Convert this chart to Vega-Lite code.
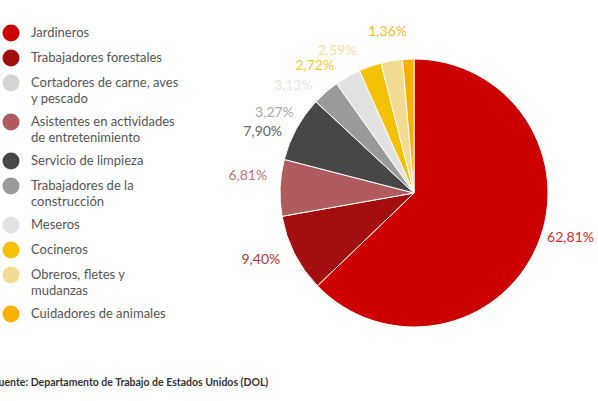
{
  "$schema": "https://vega.github.io/schema/vega-lite/v6.json",
  "width": 268,
  "height": 268,
  "autosize": "none",
  "padding": {"left": 280, "top": 59, "right": 50, "bottom": 74},
  "config": {
    "view": {"stroke": null},
    "font": "Lato",
    "style": {"guide-label": {"lineHeight": 16}},
    "locale": {"number": {"decimal": ",", "thousands": ".", "grouping": [3], "currency": ["", " €"]}}
  },
  "title": {
    "text": "Fuente: Departamento de Trabajo de Estados Unidos (DOL)",
    "orient": "bottom",
    "anchor": "start",
    "frame": "group",
    "dx": -287,
    "offset": 49,
    "fontSize": 10.5,
    "fontWeight": "bold",
    "color": "#333333",
    "font": "Lato"
  },
  "data": {
    "values": [
      {"categoria": "Jardineros", "value": 0.6281},
      {"categoria": "Trabajadores forestales", "value": 0.094},
      {"categoria": "Asistentes en actividades de entretenimiento", "value": 0.0681},
      {"categoria": "Servicio de limpieza", "value": 0.079},
      {"categoria": "Trabajadores de la construcción", "value": 0.0327},
      {"categoria": "Meseros", "value": 0.0313},
      {"categoria": "Cocineros", "value": 0.0272},
      {"categoria": "Obreros, fletes y mudanzas", "value": 0.0259},
      {"categoria": "Cuidadores de animales", "value": 0.0136}
    ]
  },
  "transform": [{"window": [{"op": "row_number", "as": "idx"}]}],
  "encoding": {
    "theta": {"field": "value", "type": "quantitative", "stack": true},
    "order": {"field": "idx", "type": "quantitative"},
    "color": {
      "field": "categoria",
      "type": "nominal",
      "scale": {
        "domain": ["Jardineros", "Trabajadores forestales", "Cortadores de carne, aves y pescado", "Asistentes en actividades de entretenimiento", "Servicio de limpieza", "Trabajadores de la construcción", "Meseros", "Cocineros", "Obreros, fletes y mudanzas", "Cuidadores de animales"],
        "range": ["#cc0000", "#a30e0e", "#d4d4d4", "#b05b5e", "#474747", "#9a9a9a", "#e2e2e2", "#f5c106", "#f3dc92", "#f8b000"]
      },
      "legend": {
        "orient": "none",
        "legendX": -278,
        "legendY": -35,
        "title": null,
        "symbolType": "circle",
        "symbolSize": 290,
        "symbolStrokeWidth": 0,
        "symbolOpacity": 1,
        "labelFont": "Lato",
        "labelFontSize": 13,
        "labelColor": "#555555",
        "labelOffset": 11,
        "labelLimit": 300,
        "rowPadding": 7,
        "padding": 0,
        "labelExpr": "datum.label == 'Cortadores de carne, aves y pescado' ? ['Cortadores de carne, aves', 'y pescado'] : datum.label == 'Asistentes en actividades de entretenimiento' ? ['Asistentes en actividades', 'de entretenimiento'] : datum.label == 'Trabajadores de la construcción' ? ['Trabajadores de la', 'construcción'] : datum.label == 'Obreros, fletes y mudanzas' ? ['Obreros, fletes y', 'mudanzas'] : datum.label"
      }
    }
  },
  "layer": [
    {"mark": {"type": "arc", "outerRadius": 134, "stroke": "#ffffff", "strokeWidth": 1}},
    {
      "mark": {"type": "text", "radius": 167, "thetaOffset": 0.06, "fontSize": 14, "opacity": 0.85},
      "encoding": {
        "text": {"condition": {"test": "indexof(['Trabajadores forestales', 'Asistentes en actividades de entretenimiento'], datum.categoria) >= 0", "field": "value", "type": "quantitative", "format": ".2%"}, "value": ""}
      }
    },
    {
      "mark": {"type": "text", "radius": 161, "thetaOffset": -0.33, "fontSize": 14, "opacity": 0.85},
      "encoding": {
        "text": {"condition": {"test": "indexof(['Trabajadores de la construcción', 'Meseros', 'Cocineros', 'Obreros, fletes y mudanzas'], datum.categoria) >= 0", "field": "value", "type": "quantitative", "format": ".2%"}, "value": ""}
      }
    },
    {
      "mark": {"type": "text", "radius": 163, "thetaOffset": -0.12, "fontSize": 14, "opacity": 0.85},
      "encoding": {
        "text": {"condition": {"test": "indexof(['Jardineros', 'Servicio de limpieza', 'Cuidadores de animales'], datum.categoria) >= 0", "field": "value", "type": "quantitative", "format": ".2%"}, "value": ""}
      }
    }
  ]
}
